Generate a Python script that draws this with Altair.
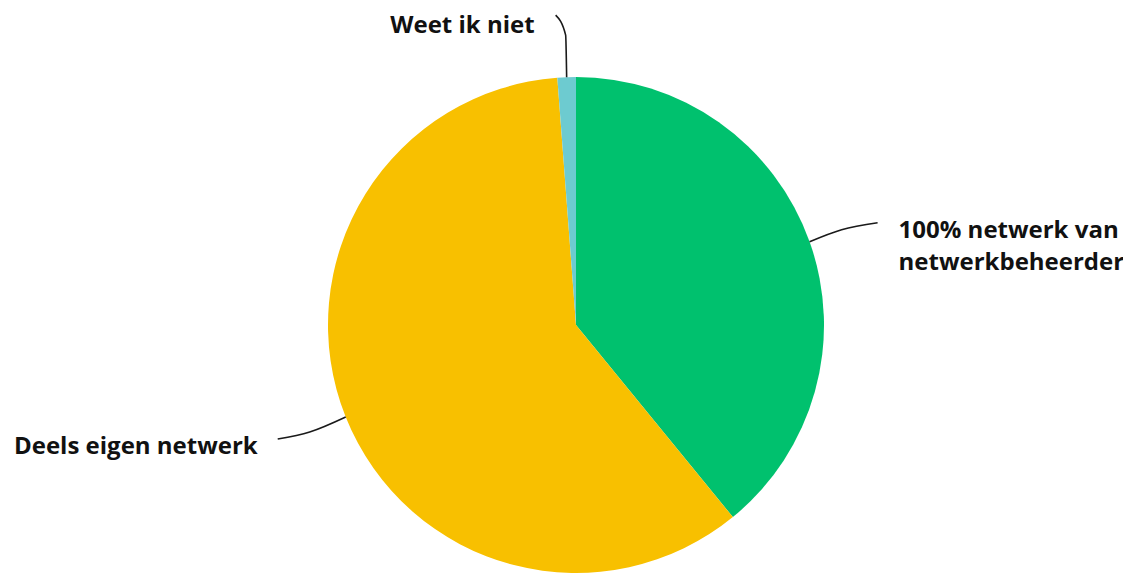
import math
import altair as alt
import pandas as pd

categories = ["100% netwerk van netwerkbeheerder", "Deels eigen netwerk", "Weet ik niet"]
values = [39.1, 59.7, 1.2]
colors = ["#00C16E", "#F8C000", "#6DCBD0"]
label_lines = [["100% netwerk van", "netwerkbeheerder"], ["Deels eigen netwerk"], ["Weet ik niet"]]

CX, CY, R = 568, 317, 248

df = pd.DataFrame({"cat": categories, "val": values, "idx": list(range(len(values)))})

pie = alt.Chart(df).mark_arc(outerRadius=R).encode(
    theta=alt.Theta("val:Q", stack=True),
    color=alt.Color("cat:N", scale=alt.Scale(domain=categories, range=colors), legend=None),
    order=alt.Order("idx:Q"),
    x=alt.value(CX),
    y=alt.value(CY),
)

# leader lines derived from slice mid-angles
total = sum(values)
cum = 0
line_rows = []
text_rows = []
for i, v in enumerate(values):
    mid = (cum + v / 2) / total * 2 * math.pi
    cum += v
    sx = CX + R * math.sin(mid)
    sy = CY - R * math.cos(mid)
    if i == 0:
        pts = [(sx, sy), (sx + 32, sy - 12), (sx + 68, sy - 19)]
        tx, ty, align = pts[-1][0] + 21, pts[-1][1] + 8, "left"
    elif i == 1:
        pts = [(sx, sy), (sx - 36, sy + 15), (sx - 68, sy + 22)]
        tx, ty, align = pts[-1][0] - 20, pts[-1][1] + 8, "right"
    else:
        pts = [(sx, sy), (sx - 1, sy - 42), (sx - 11, sy - 62)]
        tx, ty, align = pts[-1][0] - 21, pts[-1][1] + 11, "right"
    for k, (px, py) in enumerate(pts):
        line_rows.append({"cat": categories[i], "px": px, "py": py, "k": k})
    for j, t in enumerate(label_lines[i]):
        text_rows.append({"t": t, "px": tx, "py": ty + j * 32, "align": align})

ldf = pd.DataFrame(line_rows)
tdf = pd.DataFrame(text_rows)

lines = alt.Chart(ldf).mark_line(color="#1a1a1a", strokeWidth=1.6, interpolate="monotone").encode(
    x=alt.X("px:Q", scale=None),
    y=alt.Y("py:Q", scale=None),
    detail="cat:N",
    order="k:Q",
)

def text_layer(align):
    return alt.Chart(tdf[tdf["align"] == align]).mark_text(
        align=align, baseline="middle", font="Open Sans", fontWeight="bold", fontSize=24,
        color="#111111"
    ).encode(x=alt.X("px:Q", scale=None), y=alt.Y("py:Q", scale=None), text="t:N")

chart = alt.layer(pie, lines, text_layer("left"), text_layer("right")).properties(
    width=1115, height=566, padding=0, autosize=alt.AutoSizeParams(type="none")
).configure_view(stroke=None)

chart.save("out.html", embed_options={"renderer": "svg", "actions": False})
